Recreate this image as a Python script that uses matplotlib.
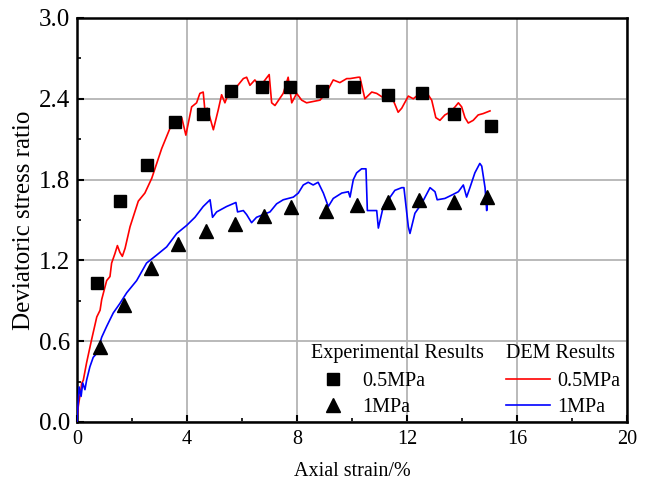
import matplotlib
matplotlib.use('Agg')
import matplotlib.pyplot as plt
from matplotlib.lines import Line2D
from matplotlib.ticker import MultipleLocator

plt.rcParams['font.family'] = 'Liberation Serif'
plt.rcParams['font.size'] = 14

# Experimental results (markers)
exp05_strain = [0.73, 1.56, 2.55, 3.56, 4.58, 5.6, 6.73, 7.75, 8.9, 10.07, 11.3, 12.55, 13.7, 15.05]
exp05_ratio = [1.03, 1.64, 1.91, 2.23, 2.29, 2.46, 2.49, 2.49, 2.46, 2.49, 2.43, 2.44, 2.29, 2.20]
exp1_strain = [0.84, 1.72, 2.68, 3.68, 4.71, 5.73, 6.81, 7.8, 9.05, 10.17, 11.32, 12.44, 13.72, 14.9]
exp1_ratio = [0.56, 0.87, 1.14, 1.32, 1.42, 1.47, 1.53, 1.60, 1.57, 1.61, 1.63, 1.65, 1.63, 1.67]

# DEM results (curves)
dem05_strain = [0, 0.01, 0.05, 0.15, 0.17, 0.23, 0.35, 0.53, 0.72, 0.84, 0.90, 1.08, 1.20, 1.26,
                1.38, 1.47, 1.56, 1.65, 1.75, 1.93, 2.23, 2.47, 2.72, 2.90, 3.08, 3.26, 3.44,
                3.63, 3.81, 3.96, 4.17, 4.35, 4.47, 4.59, 4.65, 4.74, 4.96, 5.14, 5.26, 5.38,
                5.56, 5.81, 6.05, 6.17, 6.29, 6.47, 6.65, 6.84, 6.99, 7.08, 7.20, 7.50, 7.68,
                7.81, 7.99, 8.17, 8.35, 8.59, 8.84, 9.08, 9.32, 9.56, 9.81, 9.93, 10.23, 10.29,
                10.47, 10.72, 10.90, 11.2, 11.5, 11.68, 11.81, 12.05, 12.23, 12.41, 12.59,
                12.77, 12.90, 13.05, 13.2, 13.38, 13.56, 13.75, 13.87, 13.99, 14.11, 14.23,
                14.41, 14.59, 14.77, 15.02]
dem05_ratio = [0, 0.04, 0.12, 0.25, 0.287, 0.31, 0.44, 0.61, 0.78, 0.83, 0.91, 1.05, 1.08, 1.18,
               1.25, 1.31, 1.26, 1.23, 1.29, 1.45, 1.64, 1.70, 1.81, 1.92, 2.03, 2.12, 2.21,
               2.23, 2.26, 2.13, 2.34, 2.37, 2.44, 2.45, 2.32, 2.33, 2.17, 2.32, 2.43, 2.37,
               2.47, 2.49, 2.55, 2.56, 2.50, 2.54, 2.49, 2.54, 2.58, 2.37, 2.35, 2.44, 2.56,
               2.37, 2.44, 2.39, 2.37, 2.38, 2.39, 2.45, 2.54, 2.52, 2.55, 2.55, 2.56, 2.56,
               2.40, 2.45, 2.44, 2.40, 2.39, 2.30, 2.33, 2.42, 2.40, 2.43, 2.42,
               2.43, 2.39, 2.26, 2.24, 2.28, 2.30, 2.34, 2.37, 2.34, 2.26, 2.22,
               2.24, 2.28, 2.29, 2.31]
dem1_strain = [0, 0.08, 0.15, 0.21, 0.29, 0.35, 0.47, 0.59, 0.72, 0.90, 1.08, 1.32, 1.56, 1.81,
               2.17, 2.53, 2.90, 3.26, 3.63, 3.99, 4.29, 4.59, 4.84, 4.93, 5.08, 5.44, 5.78,
               5.84, 6.05, 6.17, 6.35, 6.53, 6.77, 7.02, 7.26, 7.50, 7.87, 8.05, 8.23, 8.41,
               8.59, 8.77, 8.96, 9.14, 9.32, 9.63, 9.87, 9.93, 10.05, 10.17, 10.35, 10.51,
               10.56, 10.90, 10.96, 11.14, 11.32, 11.56, 11.81, 11.89, 12.05, 12.11, 12.29,
               12.53, 12.84, 13.02, 13.10, 13.38, 13.68, 13.87, 14.05, 14.17, 14.29, 14.47,
               14.65, 14.72, 14.84, 14.90, 14.93]
dem1_ratio = [0, 0.26, 0.19, 0.29, 0.24, 0.31, 0.41, 0.48, 0.51, 0.63, 0.71, 0.81, 0.88, 0.96,
              1.05, 1.18, 1.24, 1.30, 1.40, 1.46, 1.52, 1.60, 1.65, 1.52, 1.56, 1.60, 1.63,
              1.56, 1.57, 1.54, 1.48, 1.52, 1.54, 1.56, 1.62, 1.65, 1.67, 1.70, 1.76, 1.78,
              1.76, 1.78, 1.70, 1.60, 1.66, 1.70, 1.71, 1.67, 1.80, 1.85, 1.88, 1.88,
              1.57, 1.57, 1.44, 1.60, 1.65, 1.72, 1.74, 1.74, 1.45, 1.40, 1.55,
              1.62, 1.74, 1.71, 1.65, 1.66, 1.69, 1.71, 1.76, 1.67, 1.74, 1.85,
              1.92, 1.90, 1.74, 1.57, 1.65]

fig = plt.figure(figsize=(6.49, 4.86), dpi=100)
ax = fig.add_axes([0.1186, 0.1317, 0.8474, 0.8313])

ax.plot(dem05_strain, dem05_ratio, color='red', lw=1.2, zorder=3)
ax.plot(dem1_strain, dem1_ratio, color='blue', lw=1.2, zorder=3)
ax.plot(exp05_strain, exp05_ratio, 's', color='black', ms=8.5, zorder=4)
ax.plot(exp1_strain, exp1_ratio, '^', color='black', ms=10, zorder=4)

ax.set_xlim(0, 20)
ax.set_ylim(0, 3.0)
ax.xaxis.set_major_locator(MultipleLocator(4))
ax.xaxis.set_minor_locator(MultipleLocator(2))
ax.yaxis.set_major_locator(MultipleLocator(0.6))
ax.yaxis.set_minor_locator(MultipleLocator(0.3))
ax.yaxis.set_major_formatter(matplotlib.ticker.FormatStrFormatter('%.1f'))
ax.tick_params(which='both', direction='in')
ax.tick_params(axis='x', labelsize=14.5, pad=6)
ax.tick_params(axis='y', labelsize=18, pad=5)
ax.tick_params(which='major', length=5, width=1.5)
ax.tick_params(which='minor', length=3, width=1.2)
ax.grid(which='major', color='#b4b4b4', lw=1.3)
ax.set_axisbelow(True)
for sp in ax.spines.values():
    sp.set_linewidth(1.8)

ax.set_xlabel('Axial strain/%', fontsize=14.5, labelpad=9)
ax.set_ylabel('Deviatoric stress ratio', fontsize=18, labelpad=3)

h_exp = [Line2D([], [], ls='none', marker='s', color='black', ms=8.5),
         Line2D([], [], ls='none', marker='^', color='black', ms=10)]
h_dem = [Line2D([], [], color='red', lw=1.2), Line2D([], [], color='blue', lw=1.2)]
kw = dict(frameon=False, loc='upper left', borderpad=0, borderaxespad=0,
          handlelength=2.2, handletextpad=0.35, labelspacing=0.35,
          fontsize=14.5, title_fontsize=14.5, alignment='left')
leg1 = ax.legend(h_exp, ['0.5MPa', '1MPa'], title='Experimental Results',
                 bbox_to_anchor=(0.425, 0.192), **kw)
leg1._legend_box.sep = 6
ax.add_artist(leg1)
leg2 = ax.legend(h_dem, ['0.5MPa', '1MPa'], title='DEM Results',
                 bbox_to_anchor=(0.78, 0.192), **kw)
leg2._legend_box.sep = 6

fig.savefig('out.png', dpi=100)
